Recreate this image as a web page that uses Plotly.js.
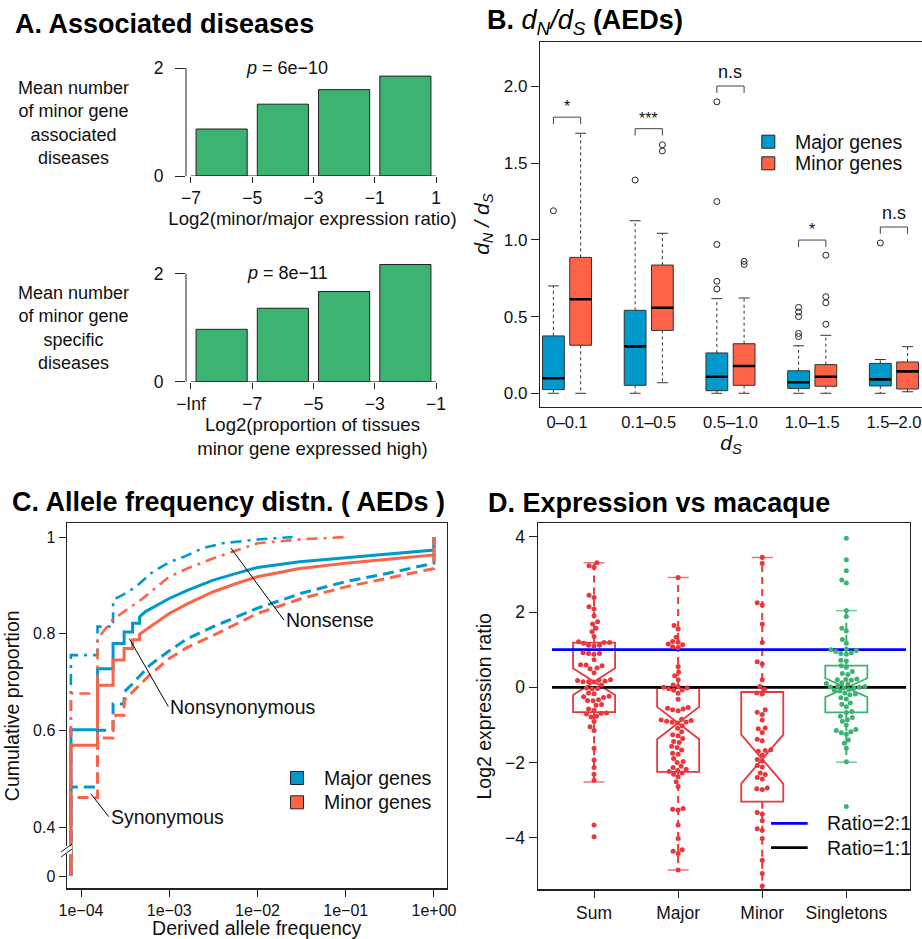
<!DOCTYPE html>
<html><head><meta charset="utf-8">
<script src="https://cdn.plot.ly/plotly-3.0.1.min.js"></script>
<style>html,body{margin:0;padding:0;background:#fff}</style>
</head><body><div id="chart" style="width:922px;height:939px"></div>
<script>
const W = 922, H = 939;
const FONT = 'Liberation Sans, Arial, Helvetica, sans-serif';
const INK = '#111';

// ---------- Panel A data ----------
const aTopBins = [-6, -4, -2, 0];
const aTopMeans = [0.87, 1.33, 1.60, 1.85];
const aTopTicks = [-7, -5, -3, -1, 1];
const aTopTickText = ['\u22127', '\u22125', '\u22123', '\u22121', '1'];
const aBotBins = [-8, -6, -4, -2];
const aBotMeans = [0.97, 1.36, 1.67, 2.17];
const aBotTicks = [-9, -7, -5, -3, -1];
const aBotTickText = ['\u2212Inf', '\u22127', '\u22125', '\u22123', '\u22121'];
const aBarWidth = 1.67;

// ---------- Panel B data ----------
const bCats = ['0\u20130.1', '0.1\u20130.5', '0.5\u20131.0', '1.0\u20131.5', '1.5\u20132.0'];
const bMajorQ1 = [0.024, 0.052, 0.017, 0.032, 0.048];
const bMajorMed = [0.098, 0.306, 0.108, 0.072, 0.091];
const bMajorQ3 = [0.374, 0.541, 0.263, 0.147, 0.195];
const bMajorLo = [0, 0, 0, 0, 0];
const bMajorHi = [0.70, 1.125, 0.617, 0.31, 0.22];
const bMajorOut = [[1.19], [1.39], [0.68, 0.73, 0.97, 1.25, 1.90], [0.37, 0.39, 0.50, 0.53, 0.56], [0.98]];
const bMinorQ1 = [0.313, 0.41, 0.052, 0.046, 0.028];
const bMinorMed = [0.613, 0.558, 0.178, 0.108, 0.143];
const bMinorQ3 = [0.886, 0.836, 0.323, 0.187, 0.204];
const bMinorLo = [0, 0.069, 0, 0, 0.01];
const bMinorHi = [1.695, 1.043, 0.621, 0.378, 0.304];
const bMinorOut = [[], [1.58, 1.62], [0.84, 0.86], [0.45, 0.59, 0.63, 0.90], []];
const bSigY = [1.80, 1.725, 2.003, 0.999, 1.084];
const bSigText = ['*', '***', 'n.s', '*', 'n.s'];
const geneGroups = ['Major genes', 'Minor genes'];

// ---------- Panel C data (ECDF vertices) ----------
const cMajNonsynX = [7.69e-5, 7.69e-5, 1.54e-4, 1.54e-4, 2.31e-4, 2.31e-4, 3.08e-4, 3.08e-4, 3.84e-4, 3.84e-4, 4.61e-4, 4.61e-4, 5.38e-4, 7e-4, 1e-3, 1.6e-3, 3.16e-3, 6e-3, 1e-2, 3e-2, 1e-1, 0.3, 1, 1];
const cMajNonsynY = [0, 0.602, 0.602, 0.728, 0.728, 0.780, 0.780, 0.804, 0.804, 0.822, 0.822, 0.835, 0.846, 0.858, 0.873, 0.890, 0.911, 0.926, 0.937, 0.949, 0.957, 0.964, 0.973, 1.0];
const cMinNonsynX = [7.69e-5, 7.69e-5, 1.54e-4, 1.54e-4, 2.31e-4, 2.31e-4, 3.08e-4, 3.08e-4, 3.84e-4, 3.84e-4, 4.61e-4, 4.61e-4, 5.38e-4, 7e-4, 1e-3, 1.6e-3, 3.16e-3, 6e-3, 1e-2, 3e-2, 1e-1, 0.3, 1, 1];
const cMinNonsynY = [0, 0.570, 0.570, 0.694, 0.694, 0.746, 0.746, 0.770, 0.770, 0.788, 0.788, 0.799, 0.808, 0.822, 0.842, 0.862, 0.887, 0.905, 0.918, 0.935, 0.946, 0.954, 0.963, 1.0];
const cMajSynX = [7.69e-5, 7.69e-5, 1.54e-4, 1.54e-4, 2.31e-4, 2.31e-4, 3.08e-4, 3.08e-4, 3.84e-4, 4.61e-4, 6e-4, 1e-3, 1.6e-3, 3.16e-3, 1e-2, 3.16e-2, 1e-1, 0.3, 1, 1];
const cMajSynY = [0, 0.484, 0.484, 0.601, 0.601, 0.655, 0.655, 0.680, 0.697, 0.712, 0.735, 0.765, 0.790, 0.815, 0.853, 0.884, 0.908, 0.925, 0.946, 1.0];
const cMinSynX = [7.69e-5, 7.69e-5, 1.54e-4, 1.54e-4, 2.31e-4, 2.31e-4, 3.08e-4, 3.08e-4, 3.84e-4, 4.61e-4, 6e-4, 1e-3, 1.6e-3, 3.16e-3, 1e-2, 3.16e-2, 1e-1, 0.3, 1, 1];
const cMinSynY = [0, 0.462, 0.462, 0.585, 0.585, 0.632, 0.632, 0.662, 0.680, 0.694, 0.715, 0.749, 0.772, 0.797, 0.842, 0.873, 0.897, 0.915, 0.935, 1.0];
const cMajNonsX = [7.69e-5, 7.69e-5, 1.54e-4, 1.54e-4, 2.31e-4, 2.31e-4, 3.08e-4, 3.84e-4, 4.61e-4, 6.5e-4, 1e-3, 1.5e-3, 2.4e-3, 4e-3, 1e-2, 2.5e-2];
const cMajNonsY = [0, 0.756, 0.756, 0.815, 0.815, 0.870, 0.882, 0.893, 0.904, 0.928, 0.948, 0.960, 0.977, 0.987, 0.995, 1.0];
const cMinNonsX = [7.69e-5, 7.69e-5, 1.54e-4, 1.54e-4, 2.31e-4, 3.08e-4, 3.84e-4, 5e-4, 7e-4, 1e-3, 1.6e-3, 3.16e-3, 1e-2, 3e-2, 1e-1];
const cMinNonsY = [0, 0.677, 0.677, 0.790, 0.830, 0.846, 0.860, 0.873, 0.895, 0.918, 0.935, 0.956, 0.987, 0.995, 1.0];
const cYTicks = [0, 0.4, 0.6, 0.8, 1];
const cYTickText = ['0', '0.4', '0.6', '0.8', '1'];
const cXTicks = [1e-4, 1e-3, 1e-2, 1e-1, 1];
const cXTickText = ['1e\u221204', '1e\u221203', '1e\u221202', '1e\u221201', '1e+00'];

// ---------- Panel D data ----------
const dCats = ['Sum', 'Major', 'Minor', 'Singletons'];
const dQ1 = [-0.66, -2.25, -3.04, -0.665];
const dMed = [0.15, -0.95, -1.91, -0.01];
const dQ3 = [1.19, -0.02, -0.125, 0.575];
const dNotch = [0.355, 0.43, 0.65, 0.25];
const dLo = [-2.52, -4.86, -5.6, -1.99];
const dHi = [3.31, 2.92, 3.45, 2.04];
const dSum = [3.31,3.23,3.19,2.45,2.39,2.14,2.08,1.90,1.74,1.68,1.57,1.48,1.35,1.21,1.19,1.19,1.17,1.12,1.12,1.10,0.92,0.90,0.90,0.88,0.73,0.60,0.59,0.57,0.51,0.49,0.39,0.20,0.19,0.18,0.17,0.15,0.15,0.14,0.06,-0.02,-0.03,-0.04,-0.15,-0.17,-0.24,-0.25,-0.27,-0.33,-0.35,-0.36,-0.46,-0.48,-0.58,-0.61,-0.68,-0.69,-0.71,-0.77,-0.79,-0.91,-1.05,-1.15,-1.62,-1.93,-2.13,-2.31,-2.47,-3.66,-3.97];
const dMajor = [2.92,1.64,1.55,1.33,1.22,1.20,1.15,1.13,1.08,1.06,0.55,0.40,0.31,0.20,0.06,0.02,0.0,-0.02,-0.04,-0.07,-0.08,-0.16,-0.32,-0.54,-0.56,-0.58,-0.60,-0.62,-0.85,-0.87,-0.88,-0.90,-0.92,-0.93,-0.95,-1.02,-1.09,-1.18,-1.26,-1.29,-1.36,-1.44,-1.47,-1.57,-1.60,-1.67,-1.75,-1.78,-1.89,-1.97,-2.00,-2.10,-2.13,-2.18,-2.21,-2.24,-2.28,-2.31,-2.38,-2.51,-2.64,-3.22,-3.24,-3.26,-3.66,-4.02,-4.32,-4.36,-4.42,-4.86];
const dMinor = [3.46,3.30,2.25,2.19,1.68,1.19,0.68,0.62,0.20,0.02,-0.05,-0.15,-0.18,-0.60,-0.66,-0.72,-0.87,-1.08,-1.10,-1.20,-1.38,-1.42,-1.66,-1.68,-1.70,-1.80,-1.92,-1.96,-2.08,-2.12,-2.28,-2.32,-2.40,-2.44,-2.68,-2.70,-2.72,-3.33,-3.37,-3.55,-3.76,-3.80,-4.02,-4.60,-4.95,-5.28];
const dSingle = [3.96,3.39,3.10,2.85,2.77,2.04,1.88,1.57,1.50,1.27,1.17,1.02,1.00,0.98,0.95,0.92,0.90,0.88,0.72,0.70,0.57,0.53,0.42,0.37,0.34,0.22,0.21,0.20,0.19,0.12,0.10,0.08,0.03,0.02,0.01,0.00,-0.01,-0.02,-0.06,-0.08,-0.10,-0.15,-0.18,-0.20,-0.28,-0.31,-0.42,-0.45,-0.52,-0.64,-0.67,-0.77,-0.80,-0.86,-0.90,-1.00,-1.12,-1.15,-1.18,-1.21,-1.25,-1.40,-1.49,-1.62,-1.98,-3.17];
const dRatioLines = [1, 0];
const dRatioNames = ['Ratio=2:1', 'Ratio=1:1'];

// ---------- colours ----------
const BLUE = 'rgb(0,153,204)';
const TOMATO = 'rgb(255,99,71)';
const GREEN = 'rgb(60,179,113)';
const DRED = 'rgb(232,56,61)';

// ---------- layout geometry (pixel -> paper) ----------
const fx = p => p / W;
const fy = p => 1 - p / H;
const dom = {
  aX: [fx(186), fx(439)],
  aTopY: [fy(176), fy(51.8)],
  aBotY: [fy(381.7), fy(257.5)],
  bX: [fx(540), 1],
  bY: [fy(406.7), fy(41.7)],
  cX: [fx(66.7), fx(446.7)],
  cY: [fy(888.3), fy(523.3)],
  dX: [fx(537.7), fx(910)],
  dY: [fy(889.3), fy(523.3)]
};
const rng = {
  aTopX: [-7.163, 1.098], aBotX: [-9.163, -0.902], aY: [0, 2.3],
  bX: [0.508, 14.53], bY: [-0.0874, 2.292],
  cX: [-4.162, 0.144], cY: [0.2746, 1.0283],
  dX: [0.33, 4.757], dY: [-5.37, 4.36]
};
// broken y axis for panel C: values below 0.4 compressed
const cT = y => (y >= 0.4 ? y : 0.3 + 0.25 * y);

const traces = [];

// ---------- Panel A ----------
traces.push({type: 'bar', x: aTopBins, y: aTopMeans, width: aBarWidth, xaxis: 'x', yaxis: 'y',
  marker: {color: GREEN, line: {color: '#222', width: 1}}, showlegend: false});
traces.push({type: 'bar', x: aBotBins, y: aBotMeans, width: aBarWidth, xaxis: 'x2', yaxis: 'y2',
  marker: {color: GREEN, line: {color: '#222', width: 1}}, showlegend: false});

// ---------- Panel B ----------
const bMajorPos = bCats.map((c, i) => 3 * i + 1);
const bMinorPos = bCats.map((c, i) => 3 * i + 2);
function boxTrace(pos, q1, med, q3, color, name) {
  return {type: 'box', orientation: 'v', x: pos, q1: q1, median: med, q3: q3,
    lowerfence: q1, upperfence: q3, width: 0.8, whiskerwidth: 0, boxpoints: false,
    fillcolor: color, line: {color: '#333', width: 1}, name: name,
    xaxis: 'x3', yaxis: 'y3', showlegend: false};
}
traces.push(boxTrace(bMajorPos, bMajorQ1, bMajorMed, bMajorQ3, BLUE, geneGroups[0]));
traces.push(boxTrace(bMinorPos, bMinorQ1, bMinorMed, bMinorQ3, TOMATO, geneGroups[1]));

function segs(list) { // list of [x0,y0,x1,y1]
  const x = [], y = [];
  list.forEach(s => { x.push(s[0], s[2], null); y.push(s[1], s[3], null); });
  return {x, y};
}
function whiskerSegs(pos, q1, q3, lo, hi) {
  const out = [];
  pos.forEach((p, i) => { out.push([p, q3[i], p, hi[i]]); out.push([p, q1[i], p, lo[i]]); });
  return out;
}
function capSegs(pos, lo, hi, half) {
  const out = [];
  pos.forEach((p, i) => { out.push([p - half, hi[i], p + half, hi[i]]); out.push([p - half, lo[i], p + half, lo[i]]); });
  return out;
}
function medSegs(pos, med, half) {
  return pos.map((p, i) => [p - half, med[i], p + half, med[i]]);
}
let s = segs(whiskerSegs(bMajorPos, bMajorQ1, bMajorQ3, bMajorLo, bMajorHi).concat(
  whiskerSegs(bMinorPos, bMinorQ1, bMinorQ3, bMinorLo, bMinorHi)));
traces.push({type: 'scatter', mode: 'lines', x: s.x, y: s.y, xaxis: 'x3', yaxis: 'y3', showlegend: false,
  line: {color: '#333', width: 1, dash: '3px,3px'}});
s = segs(capSegs(bMajorPos, bMajorLo, bMajorHi, 0.2).concat(capSegs(bMinorPos, bMinorLo, bMinorHi, 0.2)));
traces.push({type: 'scatter', mode: 'lines', x: s.x, y: s.y, xaxis: 'x3', yaxis: 'y3', showlegend: false,
  line: {color: '#333', width: 1}});
s = segs(medSegs(bMajorPos, bMajorMed, 0.4).concat(medSegs(bMinorPos, bMinorMed, 0.4)));
traces.push({type: 'scatter', mode: 'lines', x: s.x, y: s.y, xaxis: 'x3', yaxis: 'y3', showlegend: false,
  line: {color: '#000', width: 2.6}});
const outX = [], outY = [];
bMajorOut.forEach((arr, i) => arr.forEach(v => { outX.push(bMajorPos[i]); outY.push(v); }));
bMinorOut.forEach((arr, i) => arr.forEach(v => { outX.push(bMinorPos[i]); outY.push(v); }));
traces.push({type: 'scatter', mode: 'markers', x: outX, y: outY, xaxis: 'x3', yaxis: 'y3', showlegend: false,
  marker: {symbol: 'circle-open', size: 6, color: '#222', line: {width: 1}}});
const brk = [];
bMajorPos.forEach((p, i) => {
  const y = bSigY[i], d = 0.045, q = bMinorPos[i];
  brk.push([p, y - d, p, y], [p, y, q, y], [q, y, q, y - d]);
});
s = segs(brk);
traces.push({type: 'scatter', mode: 'lines', x: s.x, y: s.y, xaxis: 'x3', yaxis: 'y3', showlegend: false,
  line: {color: '#444', width: 1}});

// ---------- Panel C ----------
const cCurves = [
  {x: cMajNonsynX, y: cMajNonsynY, c: BLUE, dash: 'solid', w: 3},
  {x: cMinNonsynX, y: cMinNonsynY, c: TOMATO, dash: 'solid', w: 3},
  {x: cMajSynX, y: cMajSynY, c: BLUE, dash: '11px,6px', w: 3},
  {x: cMinSynX, y: cMinSynY, c: TOMATO, dash: '11px,6px', w: 3},
  {x: cMajNonsX, y: cMajNonsY, c: BLUE, dash: '3px,6px,11px,6px', w: 2.6},
  {x: cMinNonsX, y: cMinNonsY, c: TOMATO, dash: '3px,6px,11px,6px', w: 2.6}
];
cCurves.forEach(cv => traces.push({type: 'scatter', mode: 'lines', x: cv.x, y: cv.y.map(cT),
  xaxis: 'x4', yaxis: 'y4', showlegend: false, line: {color: cv.c, width: cv.w, dash: cv.dash}}));

// ---------- Panel D ----------
const dPos = dCats.map((c, i) => i + 1);
traces.push({type: 'box', orientation: 'v', x: dPos.slice(0, 3), q1: dQ1.slice(0, 3), median: dMed.slice(0, 3),
  q3: dQ3.slice(0, 3), lowerfence: dQ1.slice(0, 3), upperfence: dQ3.slice(0, 3), notched: true,
  notchspan: dNotch.slice(0, 3), notchwidth: 0.5, width: 0.5, whiskerwidth: 0, boxpoints: false,
  fillcolor: 'rgba(0,0,0,0)', line: {color: DRED, width: 1.8}, xaxis: 'x5', yaxis: 'y5', showlegend: false});
traces.push({type: 'box', orientation: 'v', x: dPos.slice(3), q1: dQ1.slice(3), median: dMed.slice(3),
  q3: dQ3.slice(3), lowerfence: dQ1.slice(3), upperfence: dQ3.slice(3), notched: true,
  notchspan: dNotch.slice(3), notchwidth: 0.5, width: 0.5, whiskerwidth: 0, boxpoints: false,
  fillcolor: 'rgba(0,0,0,0)', line: {color: GREEN, width: 1.8}, xaxis: 'x5', yaxis: 'y5', showlegend: false});
const dColors = [DRED, DRED, DRED, GREEN];
dPos.forEach((p, i) => {
  let w = segs([[p, dQ3[i], p, dHi[i]], [p, dQ1[i], p, dLo[i]]]);
  traces.push({type: 'scatter', mode: 'lines', x: w.x, y: w.y, xaxis: 'x5', yaxis: 'y5', showlegend: false,
    line: {color: dColors[i], width: 2, dash: '7px,5px'}});
  w = segs(capSegs([p], [dLo[i]], [dHi[i]], 0.125));
  traces.push({type: 'scatter', mode: 'lines', x: w.x, y: w.y, xaxis: 'x5', yaxis: 'y5', showlegend: false,
    opacity: 0.7, line: {color: dColors[i], width: 1.5}});
});
// reference lines
const REF_X0 = 0.5, REF_X1 = 4.71;
const refColors = ['blue', 'black'];
dRatioLines.forEach((v, k) => traces.push({type: 'scatter', mode: 'lines',
  x: [REF_X0, REF_X1], y: [v, v], name: dRatioNames[k],
  xaxis: 'x5', yaxis: 'y5', showlegend: false, line: {color: refColors[k], width: 2.8}}));
// beeswarm
const dPxY = (dom.dY[1] - dom.dY[0]) * H / (rng.dY[1] - rng.dY[0]);
const dPxX = (dom.dX[1] - dom.dX[0]) * W / (rng.dX[1] - rng.dX[0]);
function swarm(vals, diam) {
  const order = vals.map((v, i) => i).sort((a, b) => vals[a] - vals[b]);
  const placed = [], off = new Array(vals.length);
  order.forEach(i => {
    const y = vals[i] * dPxY;
    let best = 0;
    for (let k = 0; k < 400; k++) {
      const o = (k % 2 === 0 ? 1 : -1) * Math.ceil(k / 2) * 0.5;
      let ok = true;
      for (const p of placed) { const dx = p.x - o, dy = p.y - y; if (dx * dx + dy * dy < diam * diam) { ok = false; break; } }
      if (ok) { best = o; break; }
    }
    placed.push({x: best, y: y});
    off[i] = best / dPxX;
  });
  return off;
}
[dSum, dMajor, dMinor, dSingle].forEach((vals, i) => {
  const off = swarm(vals, 5.2);
  traces.push({type: 'scatter', mode: 'markers', x: off.map(o => dPos[i] + o), y: vals,
    xaxis: 'x5', yaxis: 'y5', showlegend: false, marker: {size: 5, color: dColors[i]}});
});

// ---------- Axes ----------
const tf = sz => ({family: FONT, size: sz, color: INK});
const baseAx = {showgrid: false, zeroline: false, tickcolor: '#222', automargin: false, tickfont: tf(17.5)};
const boxAx = Object.assign({}, baseAx, {showline: true, mirror: true, linecolor: '#222', linewidth: 1.2});

const layout = {
  width: W, height: H, margin: {l: 0, r: 0, t: 0, b: 0}, paper_bgcolor: '#fff', plot_bgcolor: 'rgba(0,0,0,0)',
  font: {family: FONT, color: INK}, hovermode: false, boxmode: 'overlay', bargap: 0, showlegend: false,
  xaxis: Object.assign({}, baseAx, {domain: dom.aX, range: rng.aTopX, anchor: 'y', tickvals: aTopTicks,
    ticktext: aTopTickText, ticks: 'outside', ticklen: 6,
    title: {text: 'Log2(minor/major expression ratio)', font: tf(18.6), standoff: 0}}),
  yaxis: Object.assign({}, baseAx, {domain: dom.aTopY, range: rng.aY, anchor: 'x', tickvals: [0, 2],
    ticks: 'outside', ticklen: 10, ticklabelstandoff: 8}),
  xaxis2: Object.assign({}, baseAx, {domain: dom.aX, range: rng.aBotX, anchor: 'y2', tickvals: aBotTicks,
    ticktext: aBotTickText, ticks: 'outside', ticklen: 6,
    title: {text: 'Log2(proportion of tissues<br>minor gene expressed high)', font: tf(18.6), standoff: 0}}),
  yaxis2: Object.assign({}, baseAx, {domain: dom.aBotY, range: rng.aY, anchor: 'x2', tickvals: [0, 2],
    ticks: 'outside', ticklen: 10, ticklabelstandoff: 8}),
  xaxis3: Object.assign({}, baseAx, {domain: dom.bX, range: rng.bX, anchor: 'y3', showline: true, mirror: true,
    linecolor: '#222', linewidth: 1.2, tickvals: bMajorPos.map(p => p + 0.5), ticktext: bCats, ticks: '',
    ticklabeloverflow: 'allow', tickfont: tf(16.5), title: {text: '<i>d</i><sub><i>S</i></sub>', font: tf(21), standoff: 4}}),
  yaxis3: Object.assign({}, baseAx, {domain: dom.bY, range: rng.bY, anchor: 'x3', showline: true, mirror: false,
    linecolor: '#222', linewidth: 1.2, tickvals: [0, 0.5, 1, 1.5, 2], ticktext: ['0.0', '0.5', '1.0', '1.5', '2.0'],
    ticks: 'outside', ticklen: 8, tickfont: tf(17),
    title: {text: '<i>d</i><sub><i>N</i></sub><i> / d</i><sub><i>S</i></sub>', font: tf(21), standoff: 8}}),
  xaxis4: Object.assign({}, boxAx, {domain: dom.cX, type: 'log', range: rng.cX, anchor: 'y4', tickvals: cXTicks,
    ticktext: cXTickText, ticks: 'outside', ticklen: 7, tickfont: tf(16),
    title: {text: 'Derived allele frequency', font: tf(19.5), standoff: 2}}),
  yaxis4: Object.assign({}, boxAx, {domain: dom.cY, range: rng.cY, anchor: 'x4', tickvals: cYTicks.map(cT),
    ticktext: cYTickText, ticks: 'outside', ticklen: 7, tickfont: tf(16),
    title: {text: 'Cumulative proportion', font: tf(19.5), standoff: 8}}),
  xaxis5: Object.assign({}, boxAx, {domain: dom.dX, range: rng.dX, anchor: 'y5', tickvals: dPos, ticktext: dCats,
    ticks: 'outside', ticklen: 7}),
  yaxis5: Object.assign({}, boxAx, {domain: dom.dY, range: rng.dY, anchor: 'x5', tickvals: [-4, -2, 0, 2, 4],
    ticktext: ['\u22124', '\u22122', '0', '2', '4'], ticks: 'outside', ticklen: 8,
    title: {text: 'Log2 expression ratio', font: tf(19.5), standoff: 8}}),
  shapes: [
    {type: 'line', xref: 'x', yref: 'y', x0: aTopTicks[0], x1: aTopTicks[aTopTicks.length - 1], y0: 0, y1: 0, line: {color: '#222', width: 1}},
    {type: 'line', xref: 'x domain', yref: 'y', x0: 0, x1: 0, y0: 0, y1: 2, line: {color: '#222', width: 1}},
    {type: 'line', xref: 'x2', yref: 'y2', x0: aBotTicks[0], x1: aBotTicks[aBotTicks.length - 1], y0: 0, y1: 0, line: {color: '#222', width: 1}},
    {type: 'line', xref: 'x2 domain', yref: 'y2', x0: 0, x1: 0, y0: 0, y1: 2, line: {color: '#222', width: 1}},
    // axis break marks on panel C
    {type: 'rect', xref: 'paper', yref: 'paper', x0: fx(62), x1: fx(72), y0: fy(854), y1: fy(846), fillcolor: '#fff', line: {width: 0}},
    {type: 'line', xref: 'paper', yref: 'paper', x0: fx(61), y0: fy(852), x1: fx(72), y1: fy(844), line: {color: '#222', width: 1}},
    {type: 'line', xref: 'paper', yref: 'paper', x0: fx(61), y0: fy(857), x1: fx(72), y1: fy(849), line: {color: '#222', width: 1}}
  ],
  annotations: []
};

const ann = layout.annotations;
const shp = layout.shapes;
// legend keys (drawn manually to match R legend spacing)
function legendSquares(xPx, yPxList, colors, labels, textX) {
  yPxList.forEach((yy, i) => {
    shp.push({type: 'rect', xref: 'paper', yref: 'paper', x0: fx(xPx - 6.5), x1: fx(xPx + 6.5),
      y0: fy(yy + 6.5), y1: fy(yy - 6.5), fillcolor: colors[i], line: {color: '#222', width: 1}});
    ann.push({xref: 'paper', yref: 'paper', x: fx(textX), y: fy(yy), xanchor: 'left', yanchor: 'middle',
      showarrow: false, text: labels[i], font: tf(19.5)});
  });
}
legendSquares(768.3, [141.7, 163.3], [BLUE, TOMATO], geneGroups, 793);
legendSquares(297, [778, 802.3], [BLUE, TOMATO], geneGroups, 322.3);
[823.3, 847.7].forEach((yy, k) => {
  shp.push({type: 'line', xref: 'paper', yref: 'paper', x0: fx(771), x1: fx(807.7), y0: fy(yy), y1: fy(yy),
    line: {color: refColors[k], width: 2.8}});
  ann.push({xref: 'paper', yref: 'paper', x: fx(825), y: fy(yy), xanchor: 'left', yanchor: 'middle',
    showarrow: false, text: dRatioNames[k], font: tf(19.5)});
});

const titleFont = {family: FONT, size: 27, color: '#000'};
ann.push({xref: 'paper', yref: 'paper', x: fx(13), y: fy(24), xanchor: 'left', yanchor: 'middle', showarrow: false,
  text: '<b>A. Associated diseases</b>', font: titleFont});
ann.push({xref: 'paper', yref: 'paper', x: fx(485), y: fy(22), xanchor: 'left', yanchor: 'middle', showarrow: false,
  text: '<b>B.</b> <i>d</i><sub><i>N</i></sub><i>/</i><i>d</i><sub><i>S</i></sub> <b>(AEDs)</b>', font: titleFont});
ann.push({xref: 'paper', yref: 'paper', x: fx(10), y: fy(502), xanchor: 'left', yanchor: 'middle', showarrow: false,
  text: '<b>C. Allele frequency distn. ( AEDs )</b>', font: titleFont});
ann.push({xref: 'paper', yref: 'paper', x: fx(486), y: fy(503), xanchor: 'left', yanchor: 'middle', showarrow: false,
  text: '<b>D. Expression vs macaque</b>', font: titleFont});
ann.push({xref: 'paper', yref: 'paper', x: fx(287), y: fy(68), xanchor: 'center', yanchor: 'middle', showarrow: false,
  text: '<i>p</i> = 6e\u221210', font: tf(18)});
ann.push({xref: 'paper', yref: 'paper', x: fx(287), y: fy(273), xanchor: 'center', yanchor: 'middle', showarrow: false,
  text: '<i>p</i> = 8e\u221211', font: tf(18)});
ann.push({xref: 'paper', yref: 'paper', x: fx(73), y: fy(123), xanchor: 'center', yanchor: 'middle', align: 'center',
  showarrow: false, text: 'Mean number<br>of minor gene<br>associated<br>diseases', font: tf(18)});
ann.push({xref: 'paper', yref: 'paper', x: fx(73), y: fy(328), xanchor: 'center', yanchor: 'middle', align: 'center',
  showarrow: false, text: 'Mean number<br>of minor gene<br>specific<br>diseases', font: tf(18)});
bSigText.forEach((t, i) => ann.push({xref: 'x3', yref: 'y3', x: bMajorPos[i] + 0.5, y: bSigY[i], xanchor: 'center',
  yanchor: 'bottom', yshift: t === 'n.s' ? 2 : 0, showarrow: false, text: t, font: tf(t === 'n.s' ? 18 : 16)}));
const cLab = [
  {t: 'Nonsense', x: 5e-3, y: 0.977, ax: 53, ay: 72},
  {t: 'Nonsynonymous', x: 3.53e-4, y: 0.790, ax: 39, ay: 68},
  {t: 'Synonymous', x: 1.29e-4, y: 0.47, ax: 18, ay: 23}
];
cLab.forEach(l => ann.push({xref: 'x4', yref: 'y4', x: Math.log10(l.x), y: cT(l.y), ax: l.ax, ay: l.ay,
  xanchor: 'left', yanchor: 'middle', showarrow: true, arrowhead: 0, arrowwidth: 1, arrowcolor: '#000',
  text: l.t, font: tf(19.5)}));

Plotly.newPlot('chart', traces, layout, {staticPlot: true});
</script></body></html>
